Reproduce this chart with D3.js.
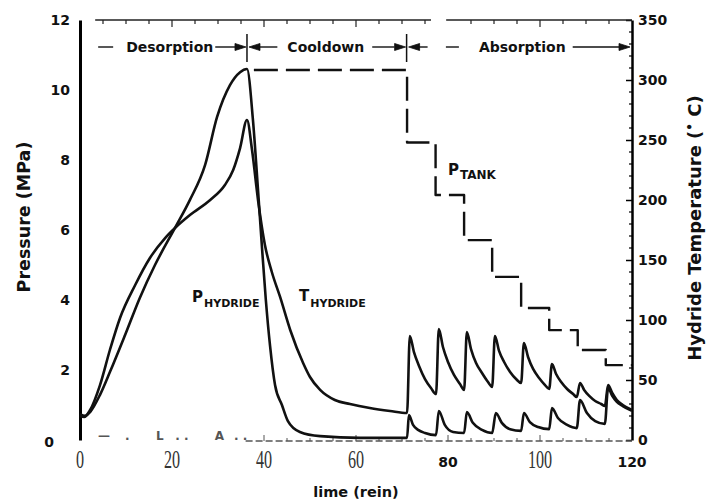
<!DOCTYPE html>
<html>
<head>
<meta charset="utf-8">
<script src="https://cdn.jsdelivr.net/npm/d3@7"></script>
<style>
body { margin: 0; background: #fff; }
text { font-family: "DejaVu Sans", sans-serif; font-weight: bold; fill: #111; }
</style>
</head>
<body>
<svg id="chart" width="717" height="502"></svg>
<script>
///////////////////////////////    DATA    ///////////////////////////////
var timeTicks = [0, 20, 40, 60, 80, 100, 120];
var sansTimeTicks = [80, 120];
var pressureTicks = [0, 2, 4, 6, 8, 10, 12];
var tempTicks = [0, 50, 100, 150, 200, 250, 300, 350];
var phases = ["Desorption", "Cooldown", "Absorption"];
var phaseBounds = [0, 36.3, 71.0, 120];

// hydride pressure (min, MPa)
var pHydrideDes = [[0, 0.74], [1.1, 0.69], [2.2, 0.8], [4.35, 1.29], [6.5, 1.94], [9.8, 3.0], [13.0, 4.06],
    [16.3, 5.0], [20.65, 6.06], [23.9, 6.86], [27.2, 7.86], [29.8, 9.23], [32.6, 10.14], [34.8, 10.51], [36.3, 10.6]];
var pHydrideCool = [[37.6, 9.14], [38.7, 7.14], [39.6, 5.43], [40.4, 4.0], [41.3, 2.71], [42.4, 1.57], [43.9, 1.0],
    [45.2, 0.54], [47.8, 0.23], [52.2, 0.11], [60.9, 0.06], [71.1, 0.06]];
var pHydrideAbs = [
    [71.5, 0.71], [72.4, 0.43], [73.5, 0.29], [75.0, 0.2], [77.4, 0.14],
    [78.0, 0.83], [79.3, 0.43], [81.1, 0.23], [83.5, 0.2],
    [84.1, 0.8], [85.4, 0.49], [87.4, 0.29], [89.6, 0.2],
    [90.4, 0.77], [91.7, 0.49], [93.5, 0.31], [95.9, 0.26],
    [96.5, 0.77], [97.8, 0.51], [99.6, 0.37], [102.0, 0.31],
    [102.6, 0.91], [103.9, 0.63], [105.9, 0.43], [108.0, 0.34],
    [108.7, 1.14], [110.2, 0.77], [112.0, 0.54], [114.1, 0.46],
    [114.8, 1.49], [115.7, 1.26], [116.7, 1.09], [118.0, 0.97], [120, 0.83]];

// hydride temperature (min, C)
var tHydrideDes = [[0, 20], [0.9, 19.2], [2.2, 25], [4.35, 45.8], [6.5, 75], [8.7, 101.7], [12.0, 129.2],
    [15.2, 151.7], [18.5, 168.3], [20.65, 176.7], [23.9, 187.5], [28.3, 200], [31.5, 212.5], [33.3, 225],
    [34.8, 243.3], [36.3, 266.7]];
var tHydrideCool = [[37.4, 241.7], [38.7, 200], [40.2, 162.5], [41.7, 140], [43.5, 119.2], [45.7, 91.7],
    [48.5, 64.2], [50.0, 52.5], [52.2, 41.7], [55.4, 33.3], [58.7, 30], [63.0, 26.7], [67.4, 24.2], [71.1, 22.5]];
var tHydrideAbs = [
    [71.7, 86.7], [72.6, 73.3], [73.7, 61.7], [75.0, 50.8], [76.3, 43.3], [77.4, 38.3],
    [78.0, 92.5], [78.9, 77.5], [80.0, 65], [81.3, 54.2], [82.6, 46.7], [83.5, 41.7],
    [84.1, 90], [85.0, 75.8], [86.1, 64.2], [87.4, 55.8], [88.7, 48.3], [89.6, 44.2],
    [90.2, 86.7], [91.1, 74.2], [92.2, 65], [93.5, 56.7], [94.8, 50.8], [95.9, 47.5],
    [96.5, 80.8], [97.4, 69.2], [98.5, 59.2], [99.8, 51.7], [101.1, 45.8], [102.0, 42.5],
    [102.6, 63.3], [103.5, 55], [104.6, 48.3], [105.9, 42.5], [107.2, 38.3], [108.0, 35.8],
    [108.7, 47.5], [109.6, 41.7], [110.7, 36.7], [112.0, 32.5], [113.3, 30], [114.1, 28.3],
    [114.8, 45.8], [115.7, 39.2], [116.7, 33.3], [118.0, 29.2], [120, 25]];

// tank pressure steps (min, MPa)
var pTank = [[37.8, 10.57], [71.1, 8.5], [77.3, 7.0], [83.5, 5.71], [89.6, 4.66], [95.9, 3.77],
    [102.0, 3.14], [108.2, 2.57], [114.3, 2.14], [120, 2.14]];

// stray marks along the bottom of the scan
var strayMarks = [["\u2014", 3.9], [".", 9.8], ["L", 16.5], [".", 20.7], [".", 22.6], ["A", 29.3], [".", 33.5], [".", 35.4]];

///////////////////////////////    SCALES    ///////////////////////////////
var svg = d3.select("#chart");
var x = d3.scaleLinear().domain([0, 120]).range([80, 632]);
var yP = d3.scaleLinear().domain([0, 12]).range([440, 20]);
var yT = d3.scaleLinear().domain([0, 350]).range([440, 20]);

///////////////////////////////    AXES    ///////////////////////////////
var left = svg.append("g")
    .attr("transform", "translate(" + x(0) + ",0)")
    .call(d3.axisLeft(yP).tickValues(pressureTicks).tickSize(0).tickPadding(10));
left.select(".domain").attr("stroke", "#000").attr("stroke-width", 3);
left.selectAll("text")
    .attr("font-family", "DejaVu Sans").attr("font-size", 14).attr("font-weight", "bold")
    .attr("dx", function(d) { return d === 0 ? -16 : 0; })
    .attr("dy", function(d) { return d === 0 ? "0.45em" : "0.32em"; });

var right = svg.append("g")
    .attr("transform", "translate(" + x(120) + ",0)")
    .call(d3.axisRight(yT).tickValues(tempTicks).tickSizeInner(-6).tickSizeOuter(0).tickPadding(6));
right.select(".domain").attr("stroke", "#000").attr("stroke-width", 2.5);
right.selectAll("line").attr("stroke-width", 1.5);
right.selectAll("text")
    .attr("font-family", "DejaVu Sans").attr("font-size", 14).attr("font-weight", "bold");

// minor ticks on the temperature axis
svg.append("g").selectAll("line")
    .data(d3.range(10, 350, 10).filter(function(d) { return d % 50 !== 0; }))
    .enter().append("line")
    .attr("x1", x(120) - 3).attr("x2", x(120))
    .attr("y1", yT).attr("y2", yT)
    .attr("stroke", "#000").attr("stroke-width", 1.2);

// top frame, broken near the cooldown/absorption boundary
var topSegs = [[3.3, 76.3], [79.6, 120]];
svg.append("g").selectAll("line").data(topSegs).enter().append("line")
    .attr("x1", function(d) { return x(d[0]); }).attr("x2", function(d) { return x(d[1]); })
    .attr("y1", yP(12)).attr("y2", yP(12))
    .attr("stroke", "#222").attr("stroke-width", 1.3);
var topTicks = d3.range(5, 120, 5).filter(function(d) { return d < 76 || d > 80; });
svg.append("g").selectAll("line").data(topTicks).enter().append("line")
    .attr("x1", x).attr("x2", x)
    .attr("y1", yP(12)).attr("y2", function(d) { return yP(12) + (d % 20 === 0 ? 7 : 4); })
    .attr("stroke", "#222").attr("stroke-width", 1.2);

// faint bottom baseline
svg.append("line")
    .attr("x1", x(36)).attr("x2", x(120)).attr("y1", 441).attr("y2", 441)
    .attr("stroke", "#555").attr("stroke-width", 1.3).attr("stroke-dasharray", "7,3");
svg.append("g").selectAll("line").data(d3.range(40, 120, 5)).enter().append("line")
    .attr("x1", x).attr("x2", x).attr("y1", 441)
    .attr("y2", function(d) { return d % 20 === 0 ? 435 : 438; })
    .attr("stroke", "#555").attr("stroke-width", 1);

svg.append("g").selectAll("text").data(strayMarks).enter().append("text")
    .attr("x", function(d) { return x(d[1]); }).attr("y", 440)
    .attr("font-size", 12).attr("font-weight", "normal").style("fill", "#555")
    .text(function(d) { return d[0]; });

// bottom tick labels (mixed type, as in the scan)
svg.append("g").selectAll("text").data(timeTicks).enter().append("text")
    .attr("text-anchor", "middle")
    .attr("transform", function(d) {
        return sansTimeTicks.indexOf(d) >= 0 ? "translate(" + x(d) + ",467)" : "translate(" + x(d) + ",468) scale(0.62,1)";
    })
    .style("font-family", function(d) { return sansTimeTicks.indexOf(d) >= 0 ? "DejaVu Sans" : "Liberation Serif"; })
    .style("font-weight", function(d) { return sansTimeTicks.indexOf(d) >= 0 ? "bold" : "normal"; })
    .style("font-size", function(d) { return sansTimeTicks.indexOf(d) >= 0 ? "14px" : "26px"; })
    .style("fill", function(d) { return sansTimeTicks.indexOf(d) >= 0 ? "#111" : "#333"; })
    .text(String);

// axis titles
svg.append("text").attr("x", 356).attr("y", 497).attr("text-anchor", "middle")
    .attr("font-size", 14.5).text("lime  (rein)");
svg.append("text").attr("transform", "translate(30,217) rotate(-90)").attr("text-anchor", "middle")
    .attr("font-size", 17.5).text("Pressure (MPa)");
var rt = svg.append("text").attr("transform", "translate(701,228) rotate(-90)").attr("text-anchor", "middle")
    .attr("font-size", 18);
rt.append("tspan").text("Hydride Temperature (");
rt.append("tspan").attr("dy", -7).attr("font-size", 12).text("\u2022");
rt.append("tspan").attr("dy", 7).text(" C)");

///////////////////////////////    PHASE HEADER    ///////////////////////////////
var hy = 47;
var header = svg.append("g").attr("stroke", "#111").attr("fill", "#111");
function arrowHead(tip, dir) {
    header.append("path")
        .attr("d", "M" + tip + "," + hy + "L" + (tip - dir * 11) + "," + (hy - 3.5) + "L" + (tip - dir * 11) + "," + (hy + 3.5) + "Z")
        .attr("stroke-width", 0.8);
}
function hline(a, b, dash) {
    header.append("line").attr("x1", a).attr("x2", b).attr("y1", hy).attr("y2", hy)
        .attr("stroke-width", 1.4).attr("stroke-dasharray", dash || null);
}
[1, 2].forEach(function(i) {
    header.append("line").attr("x1", x(phaseBounds[i])).attr("x2", x(phaseBounds[i]))
        .attr("y1", 34).attr("y2", 62).attr("stroke-width", 1.5);
});
var labelCenters = [x(19.5), (x(phaseBounds[1]) + x(phaseBounds[2])) / 2 - 1, (x(phaseBounds[2]) + x(phaseBounds[3])) / 2 + 3];
var extents = phases.map(function(p, i) {
    var t = svg.append("text").attr("x", labelCenters[i]).attr("y", 52).attr("text-anchor", "middle")
        .attr("font-size", 14).text(p);
    var w = t.node().getComputedTextLength();
    return [labelCenters[i] - w / 2, labelCenters[i] + w / 2];
});
var d1 = x(phaseBounds[1]), d2 = x(phaseBounds[2]);
hline(extents[0][0] - 28, extents[0][0] - 13);
hline(extents[0][1] + 2, d1 - 10); arrowHead(d1 - 1, 1);
arrowHead(d1 + 2, -1); hline(d1 + 12, extents[1][0] - 10);
hline(extents[1][1] + 8, d2 - 12); arrowHead(d2 - 1, 1);
arrowHead(d2 + 2, -1); hline(d2 + 12, d2 + 21); hline(extents[2][0] - 33, extents[2][0] - 20);
hline(extents[2][1] + 7, x(120) - 12); arrowHead(x(120) - 2, 1);

///////////////////////////////    CURVES    ///////////////////////////////
var lineP = d3.line().x(function(d) { return x(d[0]); }).y(function(d) { return yP(d[1]); }).curve(d3.curveMonotoneX);
var lineT = d3.line().x(function(d) { return x(d[0]); }).y(function(d) { return yT(d[1]); }).curve(d3.curveMonotoneX);
var lineTank = d3.line().x(function(d) { return x(d[0]); }).y(function(d) { return yP(d[1]); }).curve(d3.curveStepAfter);

var curves = svg.append("g").attr("fill", "none").attr("stroke", "#111").attr("stroke-linejoin", "round");
curves.append("path").attr("d", lineP(pHydrideDes.concat(pHydrideCool, pHydrideAbs))).attr("stroke-width", 2.6);
curves.append("path").attr("d", lineT(tHydrideDes.concat(tHydrideCool, tHydrideAbs))).attr("stroke-width", 2.6);
curves.append("path").attr("d", lineTank(pTank)).attr("stroke-width", 2.4).attr("stroke-dasharray", "24,8");

///////////////////////////////    CURVE LABELS    ///////////////////////////////
function subLabel(px, py, main, sub, mainSize, subSize, drop) {
    var t = svg.append("text").attr("x", px).attr("y", py);
    t.append("tspan").attr("font-size", mainSize).text(main);
    t.append("tspan").attr("font-size", subSize).attr("dx", 1).attr("dy", drop).text(sub);
}
subLabel(192, 302, "P", "HYDRIDE", 15, 11, 5);
subLabel(299, 301, "T", "HYDRIDE", 15, 11, 6);
subLabel(448, 175, "P", "TANK", 15, 12, 4);
</script>
</body>
</html>
